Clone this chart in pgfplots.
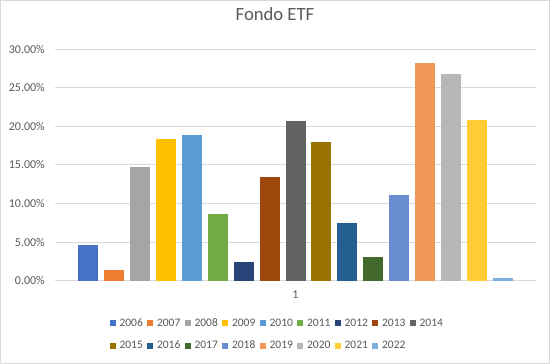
\documentclass[border=0pt]{standalone}
\usepackage{pgfplots}
\pgfplotsset{compat=1.18}
\usepackage{fontspec}
\setmainfont{Carlito}
\definecolor{c1}{HTML}{4472C4}
\definecolor{c2}{HTML}{ED7D31}
\definecolor{c3}{HTML}{A5A5A5}
\definecolor{c4}{HTML}{FFC000}
\definecolor{c5}{HTML}{5B9BD5}
\definecolor{c6}{HTML}{70AD47}
\definecolor{c7}{HTML}{264478}
\definecolor{c8}{HTML}{9E480E}
\definecolor{c9}{HTML}{636363}
\definecolor{c10}{HTML}{997300}
\definecolor{c11}{HTML}{255E91}
\definecolor{c12}{HTML}{43682B}
\definecolor{c13}{HTML}{698ED0}
\definecolor{c14}{HTML}{F1975A}
\definecolor{c15}{HTML}{B7B7B7}
\definecolor{c16}{HTML}{FFCD33}
\definecolor{c17}{HTML}{7CAFDD}
\definecolor{gridc}{HTML}{D9D9D9}
\definecolor{txt}{HTML}{595959}
\begin{document}
\begin{tikzpicture}
\draw[gridc, line width=0.75bp] (0.375bp,0.375bp) rectangle (549.625bp,363.625bp);
\begin{axis}[
  at={(55.3bp,83.3bp)}, anchor=south west,
  scale only axis, width=480.4bp, height=231.7bp,
  ybar=5.9bp, bar width=20bp,
  xmin=0.5, xmax=1.5, ymin=0, ymax=30,
  xtick={1}, xticklabels={1},
  ytick={0,5,10,15,20,25,30},
  yticklabel={\pgfmathprintnumber[fixed,fixed zerofill,precision=2]{\tick}\%},
  /pgf/number format/assume math mode=true,
  major tick length=0pt,
  axis lines=left, axis line style={draw=none},
  ymajorgrids, grid style={gridc, line width=0.75bp},
  tick label style={font=\fontsize{12bp}{14bp}\selectfont, text=txt},
  yticklabel style={xshift=-7bp},
  xticklabel style={yshift=-7bp},
  title={Fondo ETF},
  title style={font=\fontsize{18.67bp}{22bp}\selectfont, text=txt, anchor=center, at={(0.5,1)}, yshift=29bp, xshift=-20.5bp},
  legend columns=9,
  legend style={draw=none, at={(0.5,-0.148)}, anchor=north, xshift=-18.5bp, font=\fontsize{11.5bp}{14bp}\selectfont, text=txt,
     row sep=11bp, nodes={inner sep=1.2bp},
     /tikz/every odd column/.append style={column sep=2.5bp},
     /tikz/every even column/.append style={column sep=3.3bp}},
  legend cell align=left,
  legend image code/.code={\fill[#1] (0bp,-3bp) rectangle (6bp,3bp);},
  every axis plot/.append style={draw=none},
]
\addplot[fill=c1] coordinates {(1,4.62)};
\addplot[fill=c2] coordinates {(1,1.39)};
\addplot[fill=c3] coordinates {(1,14.76)};
\addplot[fill=c4] coordinates {(1,18.35)};
\addplot[fill=c5] coordinates {(1,18.86)};
\addplot[fill=c6] coordinates {(1,8.63)};
\addplot[fill=c7] coordinates {(1,2.42)};
\addplot[fill=c8] coordinates {(1,13.43)};
\addplot[fill=c9] coordinates {(1,20.68)};
\addplot[fill=c10] coordinates {(1,17.96)};
\addplot[fill=c11] coordinates {(1,7.47)};
\addplot[fill=c12] coordinates {(1,3.07)};
\addplot[fill=c13] coordinates {(1,11.10)};
\addplot[fill=c14] coordinates {(1,28.19)};
\addplot[fill=c15] coordinates {(1,26.76)};
\addplot[fill=c16] coordinates {(1,20.81)};
\addplot[fill=c17] coordinates {(1,0.35)};
\legend{2006,2007,2008,2009,2010,2011,2012,2013,2014,2015,2016,2017,2018,2019,2020,2021,2022}
\end{axis}
\end{tikzpicture}
\end{document}
